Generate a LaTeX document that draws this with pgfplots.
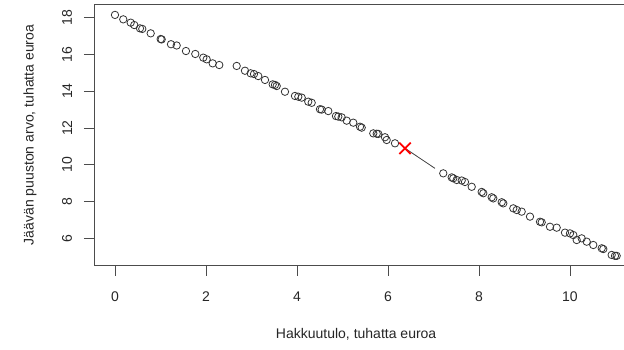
\documentclass[border=0pt]{standalone}
\usepackage{pgfplots}
\pgfplotsset{compat=1.18}
\usepackage{fontspec}
\setmainfont{Liberation Sans}
\begin{document}
\fontsize{14}{16}\selectfont
\begin{tikzpicture}
\begin{axis}[
  x=45.5pt, y=18.42pt,
  xmin=-0.4615, xmax=11.21, ymin=4.525, ymax=18.695,
  axis line style={black!70, line width=0.75pt},
  tick style={black!70, line width=0.75pt},
  tick align=outside, major tick length=10pt,
  tick pos=left,
  xtick={0,2,4,6,8,10}, ytick={6,8,10,12,14,16,18},
  /pgf/number format/assume math mode=true,
  tick label style={font=\fontsize{14}{16}\selectfont, text=black!85},
  xticklabel style={yshift=-11pt},
  yticklabel style={xshift=-7pt, rotate=90, anchor=south},
  clip=false,
  xlabel={Hakkuutulo, tuhatta euroa},
  ylabel={Jäävän puuston arvo, tuhatta euroa},
  every axis x label/.style={at={(axis cs:5.3,0.82)}, anchor=center, font=\fontsize{14}{16}\selectfont, text=black!85},
  every axis y label/.style={at={(axis cs:-1.868,11.62)}, rotate=90, anchor=center, font=\fontsize{14}{16}\selectfont, text=black!85},
]
\coordinate (BBsw) at (axis cs:-2.527,-0.05);
\coordinate (BBne) at (axis cs:11.187,18.95);
\addplot[black!75, line width=0.8pt] coordinates {(6.374,10.90) (7.033,9.81)};
\addplot[only marks, mark=o, mark size=3.7pt, black!80, mark options={line width=0.8pt}] table {
x y
0.000 18.14
0.182 17.90
0.345 17.72
0.424 17.59
0.549 17.41
0.600 17.38
0.785 17.14
1.004 16.83
1.026 16.81
1.231 16.55
1.356 16.48
1.560 16.18
1.765 16.02
1.941 15.82
2.015 15.73
2.147 15.51
2.292 15.42
2.675 15.37
2.857 15.11
2.982 14.97
3.055 14.93
3.149 14.82
3.297 14.61
3.466 14.37
3.516 14.34
3.554 14.28
3.736 13.97
3.956 13.74
4.029 13.70
4.103 13.65
4.248 13.43
4.323 13.37
4.505 13.02
4.543 13.00
4.688 12.92
4.857 12.65
4.908 12.62
4.982 12.58
5.092 12.40
5.237 12.29
5.385 12.07
5.422 12.02
5.677 11.71
5.752 11.69
5.787 11.68
5.934 11.50
5.971 11.35
6.154 11.17
7.215 9.54
7.400 9.32
7.435 9.27
7.510 9.18
7.620 9.15
7.692 9.07
7.840 8.81
8.059 8.53
8.095 8.46
8.279 8.24
8.314 8.18
8.499 7.97
8.534 7.91
8.754 7.64
8.829 7.55
8.938 7.46
9.121 7.19
9.341 6.91
9.378 6.88
9.560 6.64
9.708 6.59
9.890 6.32
10.000 6.28
10.073 6.19
10.147 5.92
10.257 6.01
10.367 5.83
10.512 5.65
10.697 5.47
10.732 5.43
10.916 5.11
10.989 5.06
11.026 5.06
};
\addplot[only marks, mark=x, mark size=8pt, red, mark options={line width=1.8pt}] coordinates {(6.374,10.90)};
\end{axis}
\pgfresetboundingbox
\useasboundingbox (BBsw) rectangle (BBne);
\end{tikzpicture}
\end{document}
